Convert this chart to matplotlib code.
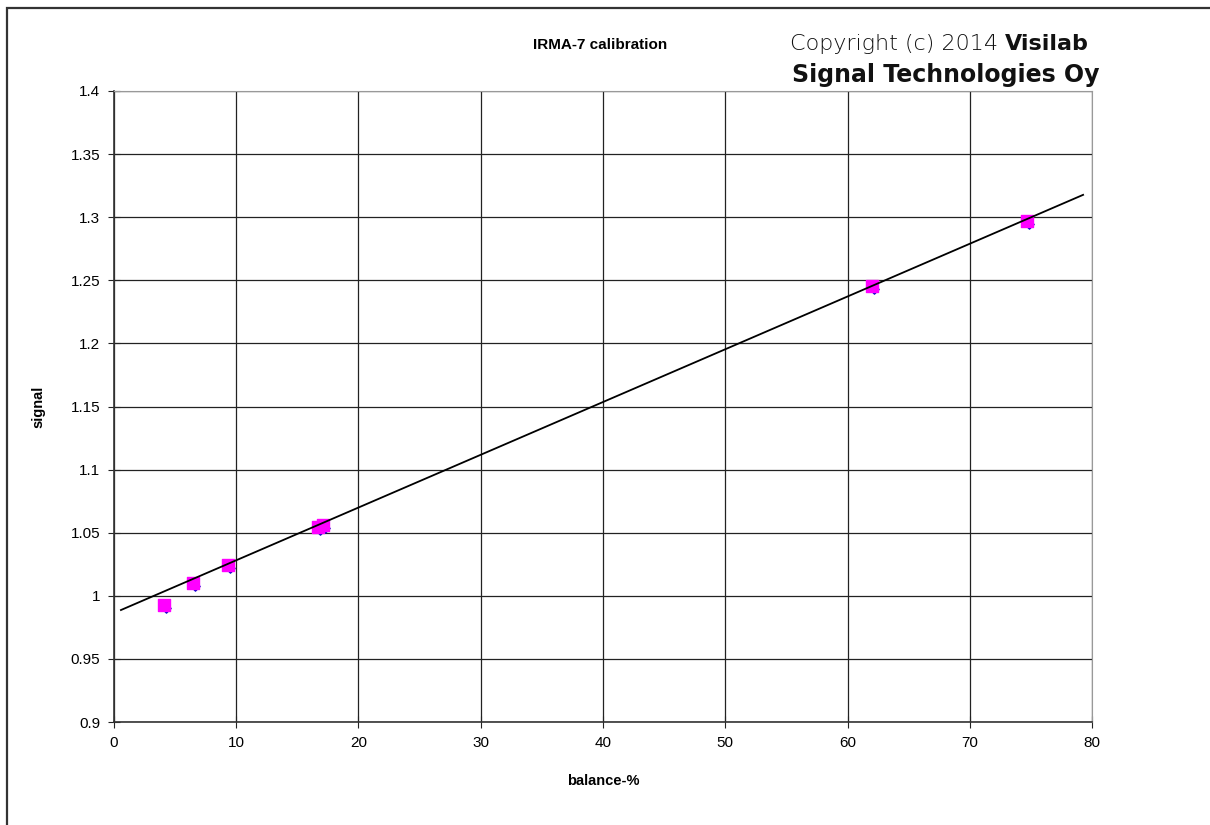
import matplotlib.pyplot as plt
from matplotlib.patches import Rectangle
import numpy as np

# measured calibration points
balance = [4.1, 6.5, 9.3, 16.7, 17.1, 62.0, 74.7]
signal = [0.9927, 1.0101, 1.0244, 1.0545, 1.0560, 1.2455, 1.2970]

# linear fit as drawn in the chart
fit_x = [0.57, 79.27]
fit_slope = 0.00418
fit_intercept = 0.98637

x_ticks = [0, 10, 20, 30, 40, 50, 60, 70, 80]
y_ticks = [0.9, 0.95, 1.0, 1.05, 1.1, 1.15, 1.2, 1.25, 1.3, 1.35, 1.4]
y_labels = ["0.9", "0.95", "1", "1.05", "1.1", "1.15", "1.2", "1.25", "1.3", "1.35", "1.4"]

plt.rcParams["font.family"] = ["Liberation Sans", "DejaVu Sans"]

fig = plt.figure(figsize=(12.1, 8.25), dpi=100)
fig.patches.append(Rectangle((7 / 1210, -0.05), 1.1, 1 - 8 / 825 + 0.05,
                             transform=fig.transFigure, fill=False,
                             edgecolor="#333333", linewidth=1.6))

ax = fig.add_axes([0.0942, 0.1248, 0.8083, 0.7649])
ax.set_xlim(0, 80)
ax.set_ylim(0.9, 1.4)
ax.set_xticks(x_ticks)
ax.set_yticks(y_ticks)
ax.set_yticklabels(y_labels)
ax.grid(True, color="#222222", linewidth=0.9)
ax.set_axisbelow(True)
ax.tick_params(direction="inout", length=8, labelsize=11, pad=6, color="#222222")
for side in ("top", "right"):
    ax.spines[side].set_color("#999999")
for side in ("left", "bottom"):
    ax.spines[side].set_color("#333333")
    ax.spines[side].set_linewidth(1.2)

fx = np.array(fit_x)
ax.plot(fx, fit_intercept + fit_slope * fx, color="black", linewidth=1.3, zorder=3)
ax.scatter(np.array(balance) + 0.15, np.array(signal) - 0.002, marker="D", s=22,
           color="#0000cc", zorder=2)
ax.scatter(balance, signal, marker="s", s=70, color="#ff00ff", zorder=2.5)

ax.set_xlabel("balance-%", fontsize=10.5, fontweight="bold", labelpad=17)
ax.set_ylabel("signal", fontsize=10.5, fontweight="bold", labelpad=18)

fig.text(600 / 1210, 1 - 45 / 825, "IRMA-7 calibration", fontsize=11,
         fontweight="bold", ha="center", va="center")

cfont = ["DejaVu Sans"]
t1 = fig.text(790 / 1210, 1 - 44 / 825, "Copyright (c) 2014 ", fontsize=16,
              family=cfont, fontweight="light", ha="left", va="center",
              color="#111111")
fig.canvas.draw()
bb = t1.get_window_extent()
fig.text(bb.x1 / 1210, 1 - 44 / 825, "Visilab", fontsize=16, family=cfont,
         fontweight="bold", ha="left", va="center", color="#111111")
fig.text(792 / 1210, 1 - 75 / 825, "Signal Technologies Oy", fontsize=17,
         family=cfont, fontweight="bold", ha="left", va="center", color="#111111")

fig.savefig("out.png", dpi=100, facecolor="white")
